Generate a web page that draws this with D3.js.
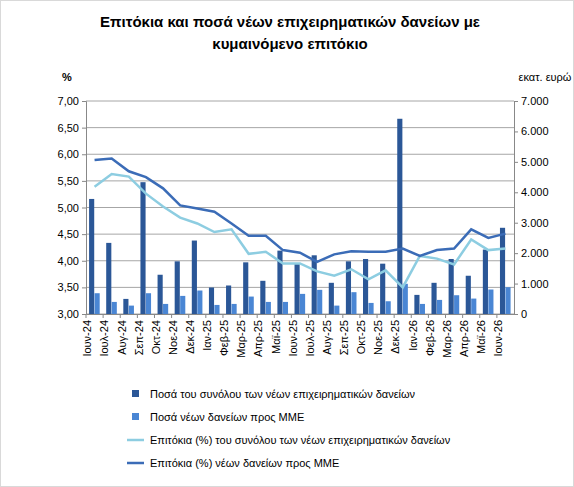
<!DOCTYPE html><html><head><meta charset="utf-8"><script src="https://cdn.jsdelivr.net/npm/d3@7"></script>
<style>body{margin:0;background:#fff;font-family:"Liberation Sans",Arial,sans-serif}</style></head><body><svg id="c" width="574" height="487"></svg><script>
const categories=["Ιουν-24","Ιουλ-24","Αυγ-24","Σεπ-24","Οκτ-24","Νοε-24","Δεκ-24","Ιαν-25","Φεβ-25","Μαρ-25","Απρ-25","Μαϊ-25","Ιουν-25","Ιουλ-25","Αυγ-25","Σεπ-25","Οκτ-25","Νοε-25","Δεκ-25","Ιαν-26","Φεβ-26","Μαρ-26","Απρ-26","Μαϊ-26","Ιουν-26"];
const totalAmount=[3781,2337,496,4332,1290,1731,2414,871,937,1698,1091,2083,1643,1929,1025,1731,1808,1654,6416,628,1025,1808,1257,2117,2833];
const smeAmount=[683,397,276,683,331,595,772,298,331,573,397,397,661,794,276,717,364,419,992,331,463,617,507,805,882];
const totalRate=[5.39,5.63,5.58,5.26,5.02,4.81,4.70,4.54,4.59,4.13,4.17,3.95,3.95,3.80,3.72,3.84,3.65,3.82,3.50,4.09,4.04,3.93,4.40,4.20,4.23];
const smeRate=[5.89,5.92,5.68,5.57,5.36,5.04,4.98,4.92,4.70,4.47,4.47,4.20,4.15,3.98,4.12,4.18,4.17,4.17,4.23,4.09,4.20,4.23,4.59,4.43,4.51];
const leftTicks=[3,3.5,4,4.5,5,5.5,6,6.5,7];
const rightTicks=[0,1000,2000,3000,4000,5000,6000,7000];
const svg=d3.select("#c");
const L=86,R=514,T=101,B=314;
const x=d3.scaleBand().domain(categories).range([L,R]);
const yL=d3.scaleLinear().domain([3,7]).range([B,T]);
const yR=d3.scaleLinear().domain([0,7000]).range([B,T]);
const c1="#2B5797",c2="#4A86D4",c3="#8DCDE1",c4="#3B6CB7";
svg.append("rect").attr("x",0.5).attr("y",0.5).attr("width",573).attr("height",486).attr("fill","none").attr("stroke","#d9d9d9");
svg.append("text").attr("x",290).attr("y",27).attr("text-anchor","middle").attr("font-weight","bold").attr("font-size",15).text("Επιτόκια και ποσά νέων επιχειρηματικών δανείων με");
svg.append("text").attr("x",290).attr("y",49).attr("text-anchor","middle").attr("font-weight","bold").attr("font-size",15).text("κυμαινόμενο επιτόκιο");
svg.append("text").attr("x",62).attr("y",81).attr("font-size",11).attr("font-weight","bold").text("%");
svg.append("text").attr("x",545).attr("y",81).attr("text-anchor","middle").attr("font-size",11).text("εκατ. ευρώ");
svg.append("g").selectAll("line").data(leftTicks).join("line").attr("x1",L).attr("x2",R).attr("y1",d=>yL(d)).attr("y2",d=>yL(d)).attr("stroke","#a6a6a6");
const gl=svg.append("g").attr("transform",`translate(${L},0)`).call(d3.axisLeft(yL).tickValues(leftTicks).tickSize(4).tickFormat(d=>d.toFixed(2).replace(".",",")));
const gr=svg.append("g").attr("transform",`translate(${R},0)`).call(d3.axisRight(yR).tickValues(rightTicks).tickSize(4).tickFormat(d=>d3.format(",")(d).replace(",",".")));
const gx=svg.append("g").attr("transform",`translate(0,${B})`).call(d3.axisBottom(x).tickSize(4).tickSizeOuter(0));
gx.selectAll("text").attr("transform","rotate(-90)").attr("text-anchor","end").attr("dx","-6").attr("dy","-0.3em").attr("x",0).attr("y",0);
[gl,gr,gx].forEach(g=>{g.selectAll("text").attr("font-size",11).attr("fill","#000").attr("font-family","Liberation Sans, Arial");g.selectAll("path,line").attr("stroke","#888");});
gx.selectAll(".tick line").attr("transform",`translate(${-x.bandwidth()/2},0)`);
const bw=x.bandwidth()*0.3;
svg.append("g").selectAll("rect").data(totalAmount).join("rect").attr("x",(d,i)=>x(categories[i])+x.bandwidth()*0.18).attr("width",bw).attr("y",d=>yR(d)).attr("height",d=>B-yR(d)).attr("fill",c1);
svg.append("g").selectAll("rect").data(smeAmount).join("rect").attr("x",(d,i)=>x(categories[i])+x.bandwidth()*0.5).attr("width",bw).attr("y",d=>yR(d)).attr("height",d=>B-yR(d)).attr("fill",c2);
const line=d3.line().x((d,i)=>x(categories[i])+x.bandwidth()/2).y(d=>yL(d));
svg.append("path").datum(totalRate).attr("d",line).attr("fill","none").attr("stroke",c3).attr("stroke-width",2.5);
svg.append("path").datum(smeRate).attr("d",line).attr("fill","none").attr("stroke",c4).attr("stroke-width",2.5);
const leg=[["Ποσά του συνόλου των νέων επιχειρηματικών δανείων",c1,"bar"],["Ποσά νέων δανείων προς ΜΜΕ",c2,"bar"],["Επιτόκια (%) του συνόλου των νέων επιχειρηματικών δανείων",c3,"line"],["Επιτόκια (%) νέων δανείων προς ΜΜΕ",c4,"line"]];
leg.forEach((l,i)=>{const y=394+i*23;
 if(l[2]=="bar")svg.append("rect").attr("x",132).attr("y",y-4).attr("width",7).attr("height",7).attr("fill",l[1]);
 else svg.append("line").attr("x1",127).attr("x2",144).attr("y1",y).attr("y2",y).attr("stroke",l[1]).attr("stroke-width",2.5);
 svg.append("text").attr("x",150).attr("y",y+4).attr("font-size",11).text(l[0]);});
</script></body></html>
